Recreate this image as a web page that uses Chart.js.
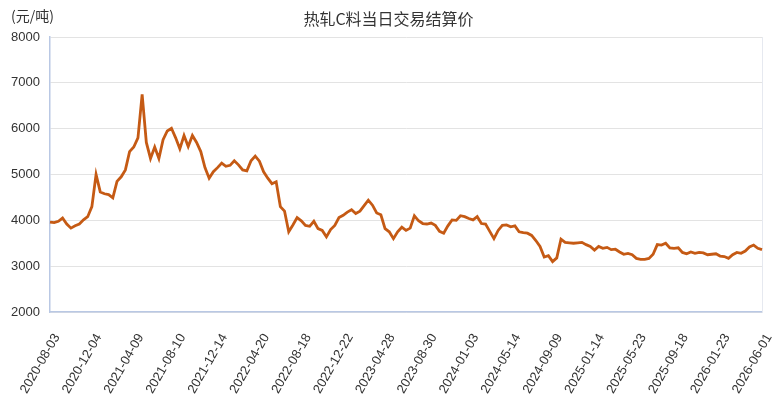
<!DOCTYPE html>
<html>
<head>
<meta charset="utf-8">
<script src="https://cdn.jsdelivr.net/npm/chart.js@4.4.1/dist/chart.umd.min.js"></script>
<style>
  html, body { margin: 0; padding: 0; background: #fff; }
  #wrap { width: 777px; height: 410px; position: relative; }
</style>
</head>
<body>
<div id="wrap"><canvas id="chart"></canvas></div>
<script>
const titleText = "热轧C料当日交易结算价";
const unitText = "(元/吨)";

// one tick label every 10 points
const tickDates = [
  "2020-08-03", "2020-12-04", "2021-04-09", "2021-08-10", "2021-12-14", "2022-04-20",
  "2022-08-18", "2022-12-22", "2023-04-28", "2023-08-30", "2024-01-03", "2024-05-14",
  "2024-09-09", "2025-01-14", "2025-05-23", "2025-09-18", "2026-01-23", "2026-06-01"
];

const prices = [
  3960, 3950, 3980, 4050, 3920, 3830, 3880, 3920, 4010, 4080,
  4300, 5000, 4620, 4580, 4560, 4490, 4850, 4950, 5100, 5500,
  5600, 5800, 6750, 5700, 5350, 5600, 5350, 5760, 5950, 6010,
  5800, 5560, 5850, 5610, 5850, 5700, 5500, 5150, 4920, 5060,
  5150, 5250, 5180, 5200, 5300, 5210, 5100, 5080, 5300, 5400,
  5290, 5060, 4920, 4800, 4840, 4300, 4200, 3750, 3900, 4060,
  3990, 3890, 3870, 3980, 3820, 3780, 3640, 3800, 3890, 4060,
  4110, 4180, 4230, 4150, 4200, 4320, 4440, 4330, 4160, 4120,
  3820, 3750, 3600, 3750, 3850, 3780, 3830, 4100, 3990, 3930,
  3920, 3940, 3890, 3760, 3720, 3880, 4010, 4000, 4100, 4080,
  4040, 4010, 4080, 3930, 3920, 3760, 3600, 3780, 3890, 3900,
  3860, 3880, 3750, 3730, 3720, 3670, 3560, 3430, 3200, 3230,
  3100, 3180, 3590, 3520, 3510, 3500, 3510, 3520, 3470, 3430,
  3350, 3430, 3390, 3410, 3360, 3370, 3310, 3260, 3280, 3250,
  3170, 3150, 3150, 3170, 3260, 3470, 3460, 3500, 3400, 3390,
  3400, 3300, 3270, 3310, 3280, 3300, 3290, 3250, 3260, 3270,
  3220, 3210, 3170, 3250, 3300, 3280, 3330, 3420, 3460, 3390,
  3360
];

const step = 10;
const labels = prices.map((_, i) => (i % step === 0 ? tickDates[i / step] : ""));

const headerText = {
  id: "headerText",
  afterDraw(c) {
    const ctx = c.ctx;
    ctx.save();
    ctx.fillStyle = "#333";
    ctx.textBaseline = "middle";
    ctx.font = "16px 'Noto Sans CJK SC', sans-serif";
    ctx.textAlign = "center";
    ctx.fillText(titleText, c.width / 2, 19);
    ctx.font = "14px 'Noto Sans CJK SC', sans-serif";
    ctx.textAlign = "left";
    ctx.fillText(unitText, 11, 16);
    ctx.restore();
  }
};

const ctx = document.getElementById("chart").getContext("2d");
new Chart(ctx, {
  type: "line",
  data: {
    labels: labels,
    datasets: [{
      label: titleText,
      data: prices,
      borderColor: "#c55a14",
      borderWidth: 2.8,
      pointRadius: 0,
      tension: 0,
      fill: false
    }]
  },
  options: {
    responsive: true,
    maintainAspectRatio: false,
    animation: false,
    devicePixelRatio: 1,
    layout: { padding: { top: 37, right: 15, left: 0, bottom: 0 } },
    plugins: {
      legend: { display: false },
      title: { display: false },
      tooltip: { enabled: false }
    },
    scales: {
      x: {
        afterFit(scale) {
          scale.height = 98;
          scale.paddingLeft = 0;
          scale.paddingRight = 0;
        },
        grid: { display: false, drawTicks: false },
        border: { color: "#b9c8e4", width: 1.5 },
        ticks: {
          autoSkip: false,
          minRotation: 60,
          maxRotation: 60,
          padding: 19,
          labelOffset: 7,
          color: "#333",
          font: { family: "'Liberation Sans', Arial, sans-serif", size: 13 }
        }
      },
      y: {
        min: 2000,
        max: 8000,
        afterFit(scale) { scale.width = 50; },
        grid: { color: "#e3e3e3", drawTicks: false },
        border: { color: "#b9c8e4", width: 1.5 },
        ticks: {
          stepSize: 1000,
          padding: 10,
          color: "#333",
          font: { family: "'Liberation Sans', Arial, sans-serif", size: 13 },
          callback: (v) => String(v)
        }
      },
      y2: {
        position: "right",
        min: 2000,
        max: 8000,
        afterFit(scale) { scale.width = 0; },
        grid: { display: false, drawTicks: false },
        border: { color: "#e6e9f0", width: 1 },
        ticks: { display: false }
      }
    }
  },
  plugins: [headerText]
});
</script>
</body>
</html>
